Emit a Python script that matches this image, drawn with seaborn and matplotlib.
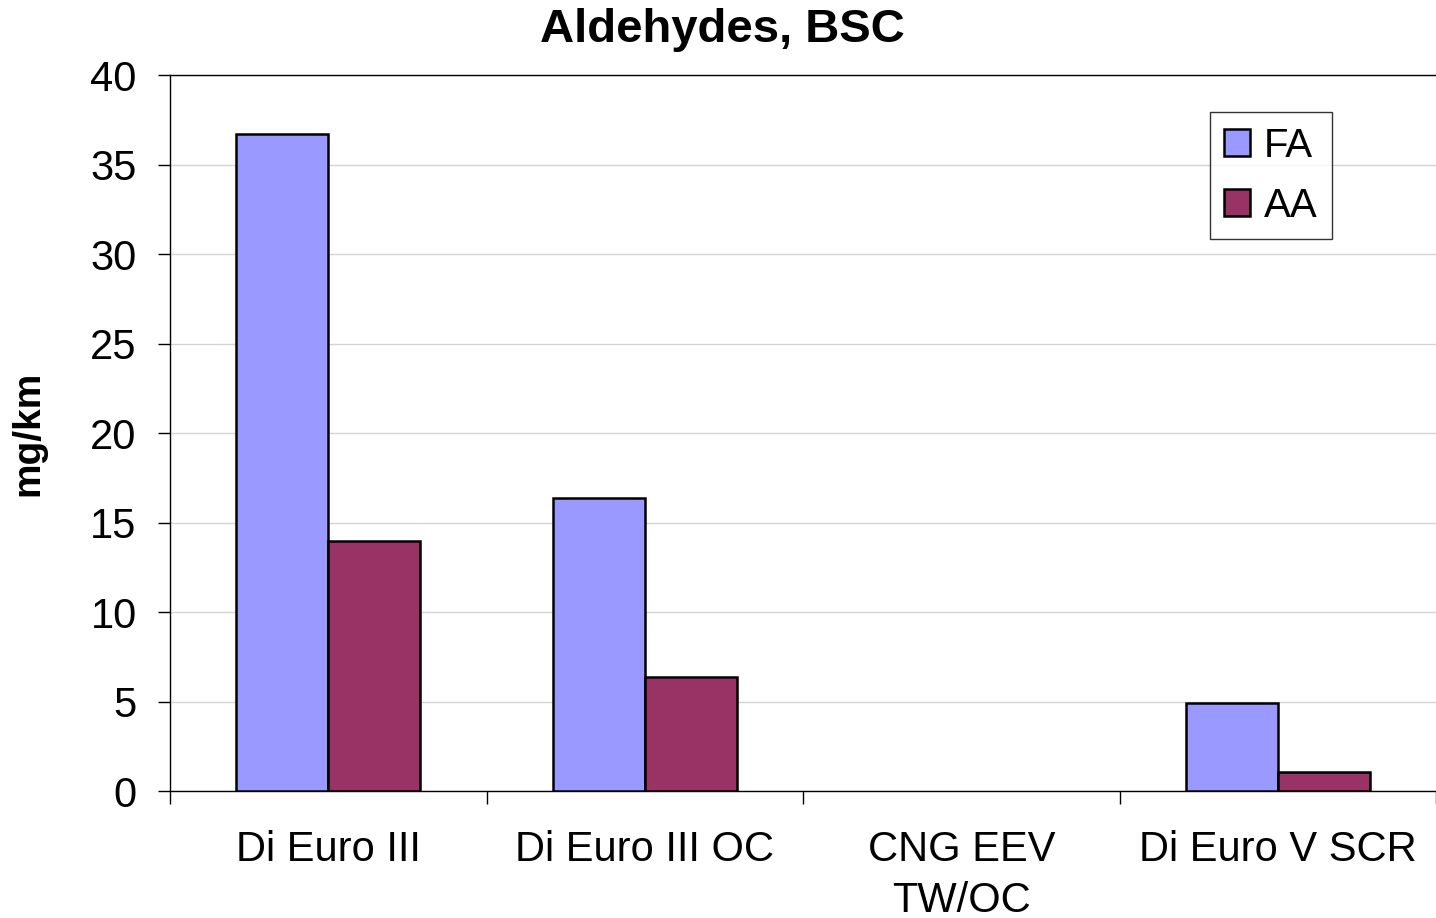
import numpy as np
import pandas as pd
import matplotlib
matplotlib.use("Agg")
import matplotlib.pyplot as plt
import seaborn as sns
from matplotlib.ticker import FixedLocator

# ==================== DATA ====================
categories = ["Di Euro III", "Di Euro III OC", "CNG EEV\nTW/OC", "Di Euro V SCR"]
fa_values = [36.7, 16.35, 0.0, 4.9]
aa_values = [14.0, 6.4, 0.0, 1.05]
series = ["FA", "AA"]
colors = ["#9999FF", "#993366"]

df = pd.DataFrame({
    "vehicle": categories * 2,
    "compound": ["FA"] * len(categories) + ["AA"] * len(categories),
    "value": fa_values + aa_values,
})

# ==================== STYLE ====================
sns.set_theme(style="white")
plt.rcParams["font.family"] = ["Liberation Sans", "DejaVu Sans"]
plt.rcParams["text.color"] = "black"
plt.rcParams["axes.labelcolor"] = "black"
plt.rcParams["xtick.color"] = "black"
plt.rcParams["ytick.color"] = "black"

fig = plt.figure(figsize=(14.36, 9.18), dpi=100)
ax = fig.add_axes([0.1184, 0.1383, 0.8816, 0.7797])

sns.barplot(data=df, x="vehicle", y="value", hue="compound", hue_order=series,
            palette=colors, width=0.58, edgecolor="black", linewidth=1.8,
            saturation=1, ax=ax, zorder=3)

# empty (zero) bars are not drawn in the original
for p in ax.patches:
    if p.get_height() == 0:
        p.set_linewidth(0)

ax.set_ylim(0, 40)
ax.set_xlim(-0.5, len(categories) - 0.5)
ax.set_yticks(np.arange(0, 41, 5))
ax.yaxis.grid(True, color="#d4d4d4", linewidth=1.0, zorder=0)
ax.set_axisbelow(True)

# spines
for side in ["left", "bottom", "top"]:
    ax.spines[side].set_visible(True)
    ax.spines[side].set_color("black")
    ax.spines[side].set_linewidth(1.0)
ax.spines["right"].set_visible(False)

# ticks: labels at category centres, tick marks between categories
ax.tick_params(axis="x", which="major", length=0, labelsize=30, pad=28)
for lbl in ax.get_xticklabels():
    lbl.set_linespacing(1.35)
ax.xaxis.set_minor_locator(FixedLocator(np.arange(-0.5, len(categories), 1.0)))
ax.tick_params(axis="x", which="minor", length=9, width=1, color="black",
               direction="out", bottom=True)
ax.tick_params(axis="y", length=9, width=1, color="black", direction="out",
               left=True, labelsize=30, pad=15)

ax.set_xlabel("")
ax.set_ylabel("mg/km", fontsize=28, fontweight="bold")
ax.yaxis.set_label_coords(-0.098, 0.5)

fig.text(0.503, 0.967, "Aldehydes, BSC", fontsize=34, fontweight="bold",
         ha="center", va="center")

leg = ax.legend(loc="upper right", bbox_to_anchor=(0.9179, 0.948), fontsize=29,
                frameon=True, fancybox=False, edgecolor="black",
                handlelength=0.65, handleheight=0.65, handletextpad=0.35,
                labelspacing=0.55, borderpad=0.35, borderaxespad=0)
leg.get_frame().set_linewidth(1.0)
for h in leg.legend_handles:
    h.set_edgecolor("black")
    h.set_linewidth(1.8)

fig.savefig("out.png", dpi=100)
